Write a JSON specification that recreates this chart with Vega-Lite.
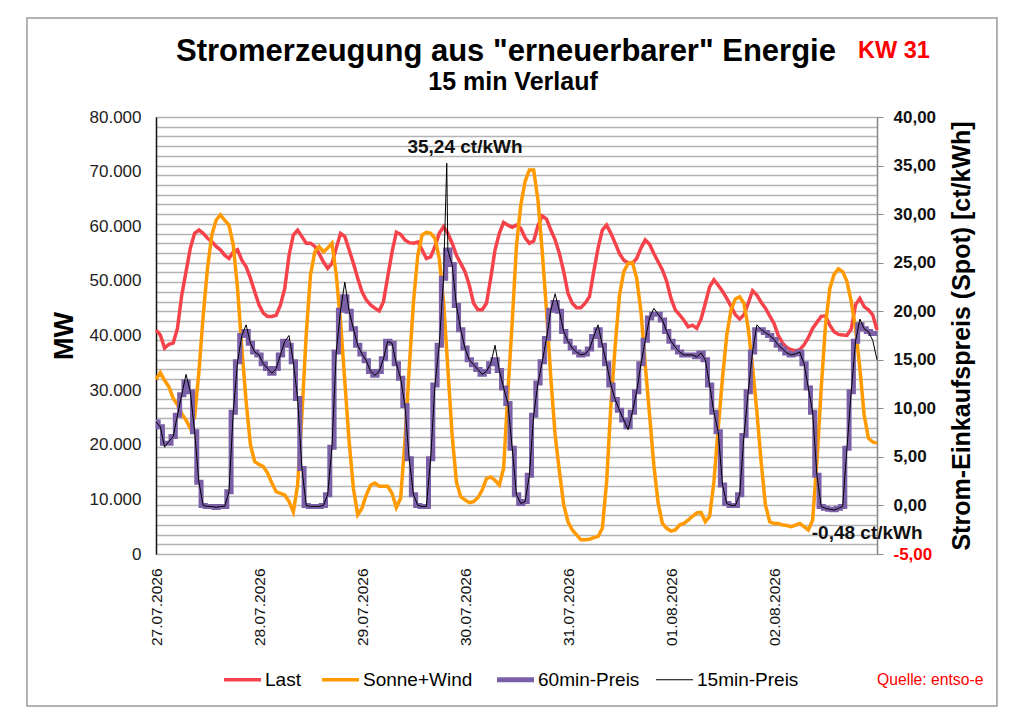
{
  "$schema": "https://vega.github.io/schema/vega-lite/v6.json",
  "width": 721,
  "height": 437,
  "autosize": {"type": "none"},
  "padding": {"left": 156, "top": 117, "right": 147, "bottom": 170},
  "background": "white",
  "config": {
    "font": "Liberation Sans",
    "locale": {
      "number": {"decimal": ",", "thousands": ".", "grouping": [3], "currency": ["", " €"], "minus": "-"}
    },
    "view": {"stroke": "#3a3a3a", "strokeWidth": 1},
    "axis": {"labelFont": "Liberation Sans", "titleFont": "Liberation Sans"},
    "legend": {"labelFont": "Liberation Sans"},
    "text": {"font": "Liberation Sans"}
  },
  "datasets": {
    "strom": [
      {"t": "2026-07-27T00:00", "last": 41000, "sw": 32000, "p60": 8.6, "p15": 8.6},
      {"t": "2026-07-27T01:00", "last": 40100, "sw": 33200, "p60": 8.1, "p15": 8.1},
      {"t": "2026-07-27T02:00", "last": 37700, "sw": 31800, "p60": 6.4, "p15": 6.0},
      {"t": "2026-07-27T03:00", "last": 38400, "sw": 30600, "p60": 6.4, "p15": 6.6},
      {"t": "2026-07-27T04:00", "last": 38600, "sw": 28500, "p60": 7.1, "p15": 7.1},
      {"t": "2026-07-27T05:00", "last": 41300, "sw": 27300, "p60": 9.3, "p15": 9.3},
      {"t": "2026-07-27T06:00", "last": 47400, "sw": 25700, "p60": 11.4, "p15": 11.4},
      {"t": "2026-07-27T07:00", "last": 51700, "sw": 24500, "p60": 12.7, "p15": 13.5},
      {"t": "2026-07-27T08:00", "last": 56000, "sw": 23000, "p60": 11.7, "p15": 11.7},
      {"t": "2026-07-27T09:00", "last": 58700, "sw": 25100, "p60": 7.6, "p15": 7.6},
      {"t": "2026-07-27T10:00", "last": 59300, "sw": 33400, "p60": 2.4, "p15": 2.4},
      {"t": "2026-07-27T11:00", "last": 58700, "sw": 43700, "p60": 0.0, "p15": 0.0},
      {"t": "2026-07-27T12:00", "last": 57800, "sw": 52300, "p60": -0.1, "p15": -0.1},
      {"t": "2026-07-27T13:00", "last": 57200, "sw": 58400, "p60": -0.1, "p15": -0.1},
      {"t": "2026-07-27T14:00", "last": 56300, "sw": 61100, "p60": -0.2, "p15": -0.2},
      {"t": "2026-07-27T15:00", "last": 55700, "sw": 62100, "p60": -0.1, "p15": -0.1},
      {"t": "2026-07-27T16:00", "last": 54700, "sw": 61100, "p60": -0.1, "p15": -0.1},
      {"t": "2026-07-27T17:00", "last": 54100, "sw": 60200, "p60": 1.4, "p15": 1.4},
      {"t": "2026-07-27T18:00", "last": 55300, "sw": 56600, "p60": 9.6, "p15": 9.6},
      {"t": "2026-07-27T19:00", "last": 55700, "sw": 48600, "p60": 14.8, "p15": 14.8},
      {"t": "2026-07-27T20:00", "last": 53800, "sw": 37700, "p60": 17.5, "p15": 17.5},
      {"t": "2026-07-27T21:00", "last": 52600, "sw": 27900, "p60": 17.9, "p15": 18.6},
      {"t": "2026-07-27T22:00", "last": 50500, "sw": 20000, "p60": 16.7, "p15": 16.7},
      {"t": "2026-07-27T23:00", "last": 48000, "sw": 16900, "p60": 15.8, "p15": 15.8},
      {"t": "2026-07-28T00:00", "last": 45600, "sw": 16400, "p60": 15.5, "p15": 15.5},
      {"t": "2026-07-28T01:00", "last": 44100, "sw": 16000, "p60": 14.6, "p15": 14.6},
      {"t": "2026-07-28T02:00", "last": 43500, "sw": 14800, "p60": 14.1, "p15": 14.1},
      {"t": "2026-07-28T03:00", "last": 43500, "sw": 13000, "p60": 13.6, "p15": 13.6},
      {"t": "2026-07-28T04:00", "last": 43700, "sw": 11400, "p60": 14.1, "p15": 14.1},
      {"t": "2026-07-28T05:00", "last": 45600, "sw": 11100, "p60": 15.5, "p15": 15.5},
      {"t": "2026-07-28T06:00", "last": 48600, "sw": 10800, "p60": 16.9, "p15": 16.9},
      {"t": "2026-07-28T07:00", "last": 54700, "sw": 9600, "p60": 16.5, "p15": 17.5},
      {"t": "2026-07-28T08:00", "last": 58400, "sw": 7700, "p60": 14.8, "p15": 14.8},
      {"t": "2026-07-28T09:00", "last": 59300, "sw": 12600, "p60": 11.0, "p15": 11.0},
      {"t": "2026-07-28T10:00", "last": 58100, "sw": 25500, "p60": 3.8, "p15": 3.8},
      {"t": "2026-07-28T11:00", "last": 56900, "sw": 40100, "p60": 0.0, "p15": 0.0},
      {"t": "2026-07-28T12:00", "last": 56900, "sw": 51100, "p60": -0.1, "p15": -0.1},
      {"t": "2026-07-28T13:00", "last": 56300, "sw": 55300, "p60": -0.1, "p15": -0.1},
      {"t": "2026-07-28T14:00", "last": 55000, "sw": 56300, "p60": -0.1, "p15": -0.1},
      {"t": "2026-07-28T15:00", "last": 53500, "sw": 55300, "p60": 0.0, "p15": 0.0},
      {"t": "2026-07-28T16:00", "last": 52300, "sw": 56000, "p60": 1.1, "p15": 1.1},
      {"t": "2026-07-28T17:00", "last": 53200, "sw": 56900, "p60": 6.0, "p15": 6.0},
      {"t": "2026-07-28T18:00", "last": 56000, "sw": 51100, "p60": 15.8, "p15": 15.8},
      {"t": "2026-07-28T19:00", "last": 58700, "sw": 42500, "p60": 20.1, "p15": 20.1},
      {"t": "2026-07-28T20:00", "last": 58100, "sw": 31500, "p60": 21.5, "p15": 23.0},
      {"t": "2026-07-28T21:00", "last": 55700, "sw": 20600, "p60": 20.0, "p15": 20.0},
      {"t": "2026-07-28T22:00", "last": 53200, "sw": 12000, "p60": 18.2, "p15": 18.2},
      {"t": "2026-07-28T23:00", "last": 50500, "sw": 7200, "p60": 16.5, "p15": 16.5},
      {"t": "2026-07-29T00:00", "last": 48000, "sw": 8400, "p60": 15.6, "p15": 15.6},
      {"t": "2026-07-29T01:00", "last": 46500, "sw": 10800, "p60": 14.9, "p15": 14.9},
      {"t": "2026-07-29T02:00", "last": 45600, "sw": 12600, "p60": 13.8, "p15": 13.8},
      {"t": "2026-07-29T03:00", "last": 45000, "sw": 13000, "p60": 13.4, "p15": 13.4},
      {"t": "2026-07-29T04:00", "last": 44500, "sw": 12400, "p60": 13.8, "p15": 13.8},
      {"t": "2026-07-29T05:00", "last": 46200, "sw": 12400, "p60": 15.1, "p15": 15.1},
      {"t": "2026-07-29T06:00", "last": 50800, "sw": 12400, "p60": 16.9, "p15": 16.9},
      {"t": "2026-07-29T07:00", "last": 55300, "sw": 11100, "p60": 16.7, "p15": 16.7},
      {"t": "2026-07-29T08:00", "last": 58900, "sw": 8500, "p60": 14.6, "p15": 14.6},
      {"t": "2026-07-29T09:00", "last": 58500, "sw": 10200, "p60": 13.1, "p15": 13.1},
      {"t": "2026-07-29T10:00", "last": 57500, "sw": 20600, "p60": 10.3, "p15": 10.3},
      {"t": "2026-07-29T11:00", "last": 57000, "sw": 34000, "p60": 4.8, "p15": 4.8},
      {"t": "2026-07-29T12:00", "last": 56900, "sw": 46200, "p60": 1.1, "p15": 1.1},
      {"t": "2026-07-29T13:00", "last": 57100, "sw": 54700, "p60": 0.0, "p15": 0.0},
      {"t": "2026-07-29T14:00", "last": 55700, "sw": 58400, "p60": -0.1, "p15": -0.1},
      {"t": "2026-07-29T15:00", "last": 54100, "sw": 58900, "p60": -0.1, "p15": -0.1},
      {"t": "2026-07-29T16:00", "last": 54400, "sw": 58700, "p60": 4.8, "p15": 4.8},
      {"t": "2026-07-29T17:00", "last": 56300, "sw": 57800, "p60": 12.4, "p15": 12.4},
      {"t": "2026-07-29T18:00", "last": 58700, "sw": 54100, "p60": 16.5, "p15": 16.5},
      {"t": "2026-07-29T19:00", "last": 59900, "sw": 46200, "p60": 23.4, "p15": 23.4},
      {"t": "2026-07-29T19:45", "p15": 35.24},
      {"t": "2026-07-29T20:00", "last": 58700, "sw": 34000, "p60": 26.3, "p15": 26.3},
      {"t": "2026-07-29T21:00", "last": 56900, "sw": 21800, "p60": 24.8, "p15": 24.8},
      {"t": "2026-07-29T22:00", "last": 54700, "sw": 13200, "p60": 20.6, "p15": 20.6},
      {"t": "2026-07-29T23:00", "last": 53200, "sw": 10500, "p60": 18.1, "p15": 18.1},
      {"t": "2026-07-30T00:00", "last": 51700, "sw": 9900, "p60": 16.2, "p15": 16.2},
      {"t": "2026-07-30T01:00", "last": 49200, "sw": 9400, "p60": 15.0, "p15": 15.0},
      {"t": "2026-07-30T02:00", "last": 45900, "sw": 9600, "p60": 14.5, "p15": 14.5},
      {"t": "2026-07-30T03:00", "last": 44700, "sw": 10300, "p60": 14.0, "p15": 14.0},
      {"t": "2026-07-30T04:00", "last": 44700, "sw": 11700, "p60": 13.5, "p15": 13.5},
      {"t": "2026-07-30T05:00", "last": 45900, "sw": 13800, "p60": 13.8, "p15": 13.8},
      {"t": "2026-07-30T06:00", "last": 50500, "sw": 14100, "p60": 14.6, "p15": 14.6},
      {"t": "2026-07-30T07:00", "last": 55700, "sw": 13500, "p60": 15.0, "p15": 16.5},
      {"t": "2026-07-30T08:00", "last": 58700, "sw": 12600, "p60": 13.9, "p15": 13.9},
      {"t": "2026-07-30T09:00", "last": 60700, "sw": 15700, "p60": 12.1, "p15": 12.1},
      {"t": "2026-07-30T10:00", "last": 60200, "sw": 29700, "p60": 10.5, "p15": 10.5},
      {"t": "2026-07-30T11:00", "last": 59800, "sw": 42500, "p60": 5.9, "p15": 5.9},
      {"t": "2026-07-30T12:00", "last": 60200, "sw": 56500, "p60": 1.1, "p15": 1.1},
      {"t": "2026-07-30T13:00", "last": 59600, "sw": 63900, "p60": 0.2, "p15": 0.2},
      {"t": "2026-07-30T14:00", "last": 57900, "sw": 68200, "p60": 0.4, "p15": 0.4},
      {"t": "2026-07-30T15:00", "last": 56900, "sw": 70300, "p60": 3.1, "p15": 3.1},
      {"t": "2026-07-30T16:00", "last": 57300, "sw": 70300, "p60": 9.3, "p15": 9.3},
      {"t": "2026-07-30T17:00", "last": 60100, "sw": 64800, "p60": 12.6, "p15": 12.6},
      {"t": "2026-07-30T18:00", "last": 61900, "sw": 55300, "p60": 14.8, "p15": 14.8},
      {"t": "2026-07-30T19:00", "last": 61300, "sw": 44400, "p60": 17.2, "p15": 17.2},
      {"t": "2026-07-30T20:00", "last": 59300, "sw": 32200, "p60": 20.1, "p15": 20.1},
      {"t": "2026-07-30T21:00", "last": 57500, "sw": 21800, "p60": 20.9, "p15": 21.8},
      {"t": "2026-07-30T22:00", "last": 55000, "sw": 15100, "p60": 20.0, "p15": 20.0},
      {"t": "2026-07-30T23:00", "last": 51700, "sw": 9000, "p60": 17.9, "p15": 17.9},
      {"t": "2026-07-31T00:00", "last": 47700, "sw": 5900, "p60": 16.9, "p15": 16.9},
      {"t": "2026-07-31T01:00", "last": 45900, "sw": 4400, "p60": 16.2, "p15": 16.2},
      {"t": "2026-07-31T02:00", "last": 45100, "sw": 3500, "p60": 15.8, "p15": 15.8},
      {"t": "2026-07-31T03:00", "last": 45100, "sw": 2600, "p60": 15.5, "p15": 15.5},
      {"t": "2026-07-31T04:00", "last": 45900, "sw": 2600, "p60": 15.6, "p15": 15.6},
      {"t": "2026-07-31T05:00", "last": 47100, "sw": 2700, "p60": 16.1, "p15": 16.1},
      {"t": "2026-07-31T06:00", "last": 51700, "sw": 3000, "p60": 17.4, "p15": 17.4},
      {"t": "2026-07-31T07:00", "last": 56000, "sw": 3200, "p60": 18.1, "p15": 18.6},
      {"t": "2026-07-31T08:00", "last": 59300, "sw": 4700, "p60": 16.5, "p15": 16.5},
      {"t": "2026-07-31T09:00", "last": 60200, "sw": 13200, "p60": 14.6, "p15": 14.6},
      {"t": "2026-07-31T10:00", "last": 58700, "sw": 27300, "p60": 12.4, "p15": 12.4},
      {"t": "2026-07-31T11:00", "last": 56900, "sw": 38200, "p60": 10.9, "p15": 10.9},
      {"t": "2026-07-31T12:00", "last": 55000, "sw": 47400, "p60": 9.8, "p15": 9.8},
      {"t": "2026-07-31T13:00", "last": 53800, "sw": 51700, "p60": 8.8, "p15": 8.8},
      {"t": "2026-07-31T14:00", "last": 53300, "sw": 53200, "p60": 8.1, "p15": 7.8},
      {"t": "2026-07-31T15:00", "last": 53200, "sw": 53400, "p60": 9.6, "p15": 9.6},
      {"t": "2026-07-31T16:00", "last": 54100, "sw": 50500, "p60": 11.7, "p15": 11.7},
      {"t": "2026-07-31T17:00", "last": 56000, "sw": 44400, "p60": 14.6, "p15": 14.6},
      {"t": "2026-07-31T18:00", "last": 57500, "sw": 34600, "p60": 17.0, "p15": 17.0},
      {"t": "2026-07-31T19:00", "last": 56700, "sw": 25500, "p60": 19.3, "p15": 19.3},
      {"t": "2026-07-31T20:00", "last": 55000, "sw": 16300, "p60": 19.7, "p15": 20.3},
      {"t": "2026-07-31T21:00", "last": 53500, "sw": 9300, "p60": 19.7, "p15": 19.7},
      {"t": "2026-07-31T22:00", "last": 52000, "sw": 5600, "p60": 19.1, "p15": 19.1},
      {"t": "2026-07-31T23:00", "last": 49900, "sw": 4700, "p60": 17.9, "p15": 17.9},
      {"t": "2026-08-01T00:00", "last": 46800, "sw": 4200, "p60": 16.9, "p15": 16.9},
      {"t": "2026-08-01T01:00", "last": 44700, "sw": 4400, "p60": 16.3, "p15": 16.3},
      {"t": "2026-08-01T02:00", "last": 43800, "sw": 5300, "p60": 15.8, "p15": 15.8},
      {"t": "2026-08-01T03:00", "last": 42800, "sw": 5600, "p60": 15.5, "p15": 15.5},
      {"t": "2026-08-01T04:00", "last": 41600, "sw": 6200, "p60": 15.5, "p15": 15.5},
      {"t": "2026-08-01T05:00", "last": 41900, "sw": 6900, "p60": 15.5, "p15": 15.5},
      {"t": "2026-08-01T06:00", "last": 41300, "sw": 7500, "p60": 15.3, "p15": 15.3},
      {"t": "2026-08-01T07:00", "last": 43000, "sw": 7600, "p60": 15.7, "p15": 15.7},
      {"t": "2026-08-01T08:00", "last": 45900, "sw": 5900, "p60": 15.0, "p15": 15.0},
      {"t": "2026-08-01T09:00", "last": 48900, "sw": 6900, "p60": 12.4, "p15": 12.4},
      {"t": "2026-08-01T10:00", "last": 50200, "sw": 13200, "p60": 9.6, "p15": 9.6},
      {"t": "2026-08-01T11:00", "last": 49200, "sw": 23000, "p60": 7.6, "p15": 7.6},
      {"t": "2026-08-01T12:00", "last": 48100, "sw": 32200, "p60": 2.1, "p15": 2.1},
      {"t": "2026-08-01T13:00", "last": 46800, "sw": 40100, "p60": 0.2, "p15": 0.2},
      {"t": "2026-08-01T14:00", "last": 45300, "sw": 44700, "p60": 0.0, "p15": 0.0},
      {"t": "2026-08-01T15:00", "last": 43800, "sw": 46700, "p60": 0.0, "p15": 0.0},
      {"t": "2026-08-01T16:00", "last": 43000, "sw": 47100, "p60": 1.1, "p15": 1.1},
      {"t": "2026-08-01T17:00", "last": 43800, "sw": 45900, "p60": 7.2, "p15": 7.2},
      {"t": "2026-08-01T18:00", "last": 45900, "sw": 41300, "p60": 11.7, "p15": 11.7},
      {"t": "2026-08-01T19:00", "last": 48200, "sw": 34300, "p60": 15.8, "p15": 15.8},
      {"t": "2026-08-01T20:00", "last": 47400, "sw": 26100, "p60": 18.1, "p15": 18.6},
      {"t": "2026-08-01T21:00", "last": 46100, "sw": 16900, "p60": 18.1, "p15": 18.1},
      {"t": "2026-08-01T22:00", "last": 45000, "sw": 9000, "p60": 17.8, "p15": 17.8},
      {"t": "2026-08-01T23:00", "last": 43600, "sw": 5900, "p60": 17.5, "p15": 17.5},
      {"t": "2026-08-02T00:00", "last": 42200, "sw": 5600, "p60": 17.1, "p15": 17.1},
      {"t": "2026-08-02T01:00", "last": 40000, "sw": 5600, "p60": 16.5, "p15": 16.5},
      {"t": "2026-08-02T02:00", "last": 38600, "sw": 5300, "p60": 16.1, "p15": 16.1},
      {"t": "2026-08-02T03:00", "last": 37800, "sw": 5200, "p60": 15.7, "p15": 15.7},
      {"t": "2026-08-02T04:00", "last": 37400, "sw": 5000, "p60": 15.5, "p15": 15.5},
      {"t": "2026-08-02T05:00", "last": 37200, "sw": 5300, "p60": 15.6, "p15": 15.6},
      {"t": "2026-08-02T06:00", "last": 37400, "sw": 5600, "p60": 15.8, "p15": 15.8},
      {"t": "2026-08-02T07:00", "last": 38300, "sw": 5000, "p60": 14.6, "p15": 14.6},
      {"t": "2026-08-02T08:00", "last": 39600, "sw": 4400, "p60": 12.1, "p15": 12.1},
      {"t": "2026-08-02T09:00", "last": 41300, "sw": 6200, "p60": 9.6, "p15": 9.6},
      {"t": "2026-08-02T10:00", "last": 42400, "sw": 16900, "p60": 3.1, "p15": 3.1},
      {"t": "2026-08-02T11:00", "last": 43500, "sw": 30300, "p60": -0.1, "p15": -0.1},
      {"t": "2026-08-02T12:00", "last": 43600, "sw": 41900, "p60": -0.3, "p15": -0.3},
      {"t": "2026-08-02T13:00", "last": 41900, "sw": 48600, "p60": -0.4, "p15": -0.4},
      {"t": "2026-08-02T14:00", "last": 40700, "sw": 51200, "p60": -0.45, "p15": -0.48},
      {"t": "2026-08-02T15:00", "last": 40200, "sw": 52200, "p60": -0.3, "p15": -0.3},
      {"t": "2026-08-02T16:00", "last": 40100, "sw": 51700, "p60": -0.1, "p15": -0.1},
      {"t": "2026-08-02T17:00", "last": 40000, "sw": 49900, "p60": 5.9, "p15": 5.9},
      {"t": "2026-08-02T18:00", "last": 41200, "sw": 46200, "p60": 11.7, "p15": 11.7},
      {"t": "2026-08-02T19:00", "last": 45600, "sw": 41300, "p60": 16.9, "p15": 16.9},
      {"t": "2026-08-02T20:00", "last": 46800, "sw": 34000, "p60": 18.6, "p15": 19.2},
      {"t": "2026-08-02T21:00", "last": 45300, "sw": 25500, "p60": 18.2, "p15": 18.2},
      {"t": "2026-08-02T22:00", "last": 44700, "sw": 21200, "p60": 17.9, "p15": 17.9},
      {"t": "2026-08-02T23:00", "last": 43800, "sw": 20500, "p60": 17.7, "p15": 17.0},
      {"t": "2026-08-03T00:00", "last": 41000, "sw": 20300, "p60": 17.7, "p15": 15.0}
    ]
  },
  "layer": [
    {
      "data": {"name": "strom"},
      "transform": [
        {"fold": ["last", "sw"], "as": ["s", "v"]},
        {"filter": "isValid(datum.v)"}
      ],
      "mark": {"type": "line", "strokeWidth": 3.5},
      "encoding": {
        "x": {
          "field": "t",
          "type": "temporal",
          "scale": {"domain": [{"year": 2026, "month": 7, "date": 27}, {"year": 2026, "month": 8, "date": 3}]},
          "axis": {
            "values": [
              {"year": 2026, "month": 7, "date": 27},
              {"year": 2026, "month": 7, "date": 28},
              {"year": 2026, "month": 7, "date": 29},
              {"year": 2026, "month": 7, "date": 30},
              {"year": 2026, "month": 7, "date": 31},
              {"year": 2026, "month": 8, "date": 1},
              {"year": 2026, "month": 8, "date": 2}
            ],
            "format": "%d.%m.%Y",
            "labelAngle": 270,
            "labelFontSize": 15.5,
            "labelColor": "#111111",
            "labelPadding": 14,
            "labelOverlap": false,
            "labelFlush": false,
            "ticks": false,
            "domain": false,
            "grid": false,
            "title": null
          }
        },
        "y": {
          "field": "v",
          "type": "quantitative",
          "scale": {"domain": [0, 80000], "nice": false},
          "axis": {
            "orient": "left",
            "values": [0, 10000, 20000, 30000, 40000, 50000, 60000, 70000, 80000],
            "format": ",d",
            "labelFontSize": 17,
            "labelColor": "#222222",
            "labelPadding": 15,
            "labelOverlap": false,
            "labelFlush": false,
            "ticks": false,
            "domainColor": "#111111",
            "domainWidth": 1.5,
            "grid": false,
            "title": "MW",
            "titleFontSize": 27,
            "titleFontWeight": "bold",
            "titleColor": "#000000",
            "titlePadding": 11
          }
        },
        "color": {
          "field": "s",
          "type": "nominal",
          "scale": {
            "domain": ["last", "sw", "p60", "p15"],
            "range": ["#F6434B", "#FF9A00", "#7B60A8", "#000000"]
          },
          "legend": {
            "orient": "none",
            "legendX": 67,
            "legendY": 553,
            "direction": "horizontal",
            "title": null,
            "symbolType": "stroke",
            "symbolSize": 1369,
            "symbolOffset": 10,
            "symbolStrokeWidth": {"expr": "datum.value == 'p15' ? 1 : (datum.value == 'p60' ? 5 : 3.5)"},
            "labelExpr": "datum.value == 'last' ? 'Last' : (datum.value == 'sw' ? 'Sonne+Wind' : (datum.value == 'p60' ? '60min-Preis' : '15min-Preis'))",
            "labelFontSize": 19,
            "labelColor": "#000000",
            "labelOffset": 13,
            "labelLimit": 0,
            "columnPadding": 14,
            "padding": 0
          }
        }
      }
    },
    {
      "layer": [
        {
          "data": {"name": "strom"},
          "transform": [{"filter": "isValid(datum.p60)"}],
          "mark": {"type": "line", "interpolate": "step", "strokeWidth": 5},
          "encoding": {
            "x": {"field": "t", "type": "temporal"},
            "y": {
              "field": "p60",
              "type": "quantitative",
              "scale": {"domain": [-5, 40], "nice": false},
              "axis": {
                "orient": "right",
                "values": [-5, -4, -3, -2, -1, 0, 1, 2, 3, 4, 5, 6, 7, 8, 9, 10, 11, 12, 13, 14, 15, 16, 17, 18, 19, 20, 21, 22, 23, 24, 25, 26, 27, 28, 29, 30, 31, 32, 33, 34, 35, 36, 37, 38, 39, 40],
                "tickCount": 100,
                "format": ".2f",
                "labelExpr": "datum.value % 5 == 0 ? datum.label : ''",
                "labelFontSize": 17,
                "labelFontWeight": "bold",
                "labelColor": {"condition": {"test": "datum.value == -5", "value": "#FF0000"}, "value": "#111111"},
                "labelPadding": 10,
                "labelOverlap": false,
                "labelFlush": false,
                "tickSize": 6,
                "tickColor": {"condition": {"test": "datum.value % 5 != 0", "value": "transparent"}, "value": "#888888"},
                "domainColor": "#888888",
                "domainWidth": 1.5,
                "grid": true,
                "gridColor": "#b4b4b4",
                "gridWidth": 1.5,
                "title": "Strom-Einkaufspreis (Spot)  [ct/kWh]",
                "titleAngle": 270,
                "titleBaseline": "top",
                "titleFontSize": 25,
                "titleFontWeight": "bold",
                "titleColor": "#000000",
                "titlePadding": 14
              }
            },
            "color": {"datum": "p60", "type": "nominal"}
          }
        },
        {
          "data": {"name": "strom"},
          "transform": [{"filter": "isValid(datum.p15)"}],
          "mark": {"type": "line", "strokeWidth": 1},
          "encoding": {
            "x": {"field": "t", "type": "temporal"},
            "y": {"field": "p15", "type": "quantitative"},
            "color": {"datum": "p15", "type": "nominal"}
          }
        },
        {
          "data": {"values": [{}]},
          "mark": {"type": "text", "text": "Stromerzeugung aus \"erneuerbarer\" Energie", "fontSize": 31, "fontWeight": "bold", "align": "center", "baseline": "alphabetic", "color": "#000000"},
          "encoding": {
            "x": {"datum": {"year": 2026, "month": 7, "date": 30, "hours": 9, "minutes": 33}, "type": "temporal"},
            "y": {"datum": 45.77, "type": "quantitative"}
          }
        },
        {
          "data": {"values": [{}]},
          "mark": {"type": "text", "text": "15 min Verlauf", "fontSize": 25, "fontWeight": "bold", "align": "center", "baseline": "alphabetic", "color": "#000000"},
          "encoding": {
            "x": {"datum": {"year": 2026, "month": 7, "date": 30, "hours": 11, "minutes": 11}, "type": "temporal"},
            "y": {"datum": 42.78, "type": "quantitative"}
          }
        },
        {
          "data": {"values": [{}]},
          "mark": {"type": "text", "text": "KW 31", "fontSize": 23.5, "fontWeight": "bold", "align": "left", "baseline": "alphabetic", "color": "#FF0000"},
          "encoding": {
            "x": {"datum": {"year": 2026, "month": 8, "date": 2, "hours": 19, "minutes": 36}, "type": "temporal"},
            "y": {"datum": 46.1, "type": "quantitative"}
          }
        },
        {
          "data": {"values": [{}]},
          "mark": {"type": "text", "text": "35,24 ct/kWh", "fontSize": 19, "fontWeight": "bold", "align": "center", "baseline": "alphabetic", "color": "#111111"},
          "encoding": {
            "x": {"datum": {"year": 2026, "month": 7, "date": 30}, "type": "temporal"},
            "y": {"datum": 36.3, "type": "quantitative"}
          }
        },
        {
          "data": {"values": [{}]},
          "mark": {"type": "text", "text": "-0,48 ct/kWh", "fontSize": 19, "fontWeight": "bold", "align": "left", "baseline": "alphabetic", "color": "#111111"},
          "encoding": {
            "x": {"datum": {"year": 2026, "month": 8, "date": 2, "hours": 8, "minutes": 48}, "type": "temporal"},
            "y": {"datum": -3.46, "type": "quantitative"}
          }
        },
        {
          "data": {"values": [{}]},
          "mark": {"type": "text", "text": "Quelle: entso-e", "fontSize": 15.7, "align": "left", "baseline": "alphabetic", "color": "#FF0000"},
          "encoding": {
            "x": {"datum": {"year": 2026, "month": 8, "date": 3}, "type": "temporal"},
            "y": {"datum": -18.5, "type": "quantitative"}
          }
        },
        {
          "data": {"values": [{}]},
          "mark": {"type": "rect", "filled": false, "stroke": "#9a9a9a", "strokeWidth": 1.5},
          "encoding": {
            "x": {"datum": {"year": 2026, "month": 7, "date": 25, "hours": 17, "minutes": 56}, "type": "temporal"},
            "x2": {"datum": {"year": 2026, "month": 8, "date": 4, "hours": 3, "minutes": 57}},
            "y": {"datum": 50.19, "type": "quantitative"},
            "y2": {"datum": -20.65}
          }
        }
      ]
    }
  ],
  "resolve": {"scale": {"y": "independent"}}
}
